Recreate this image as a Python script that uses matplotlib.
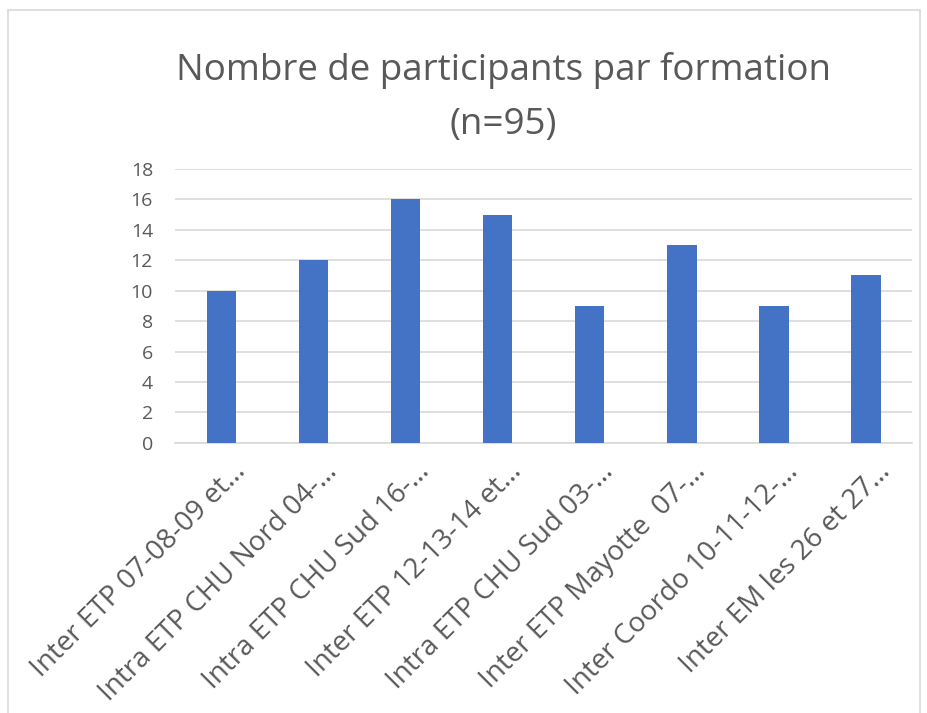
import matplotlib.pyplot as plt
import matplotlib.transforms as mtransforms
from matplotlib.patches import Rectangle

plt.rcParams['font.family'] = ['Open Sans', 'DejaVu Sans']

categories = [
    "Inter ETP 07-08-09 et…",
    "Intra ETP CHU Nord 04-…",
    "Intra ETP CHU Sud 16-…",
    "Inter ETP 12-13-14 et…",
    "Intra ETP CHU Sud 03-…",
    "Inter ETP Mayotte  07-…",
    "Inter Coordo 10-11-12-…",
    "Inter EM les 26 et 27…",
]
participants = [10, 12, 16, 15, 9, 13, 9, 11]
yticks = [0, 2, 4, 6, 8, 10, 12, 14, 16, 18]

text_color = "#595959"
bar_color = "#4472C4"
grid_color = "#D9D9D9"

fig = plt.figure(figsize=(9.27, 7.13), dpi=100)
ax = fig.add_axes([0.189, 0.379, 0.795, 0.384])

x = range(len(categories))
ax.bar(x, participants, width=0.32, color=bar_color, zorder=3)

ax.set_xlim(-0.5, len(categories) - 0.5)
ax.set_ylim(0, 18)
ax.set_yticks(yticks)
ax.set_yticklabels([str(v) for v in yticks], fontsize=14, color=text_color)
ax.yaxis.grid(True, color=grid_color, linewidth=1.2, zorder=0)
ax.tick_params(axis='y', length=0, pad=16)
ax.tick_params(axis='x', length=0, pad=11)

ax.set_xticks(list(x))
ax.set_xticklabels(categories, rotation=45, ha='right', va='top',
                   rotation_mode='anchor', fontsize=20, color=text_color)
offset = mtransforms.ScaledTranslation(0.1, 0, fig.dpi_scale_trans)
for lbl in ax.get_xticklabels():
    lbl.set_transform(lbl.get_transform() + offset)

for side in ['top', 'right', 'left']:
    ax.spines[side].set_visible(False)
ax.spines['bottom'].set_color(grid_color)
ax.spines['bottom'].set_linewidth(1.2)

fig.text(0.543, 0.863, "Nombre de participants par formation\n(n=95)",
         ha='center', va='center', fontsize=26.5, color=text_color,
         linespacing=1.65)

fig.patches.append(Rectangle((0.009, -0.01), 0.983, 0.996, transform=fig.transFigure,
                             fill=False, edgecolor=grid_color, linewidth=1.2))

fig.savefig("out.png", dpi=100)
